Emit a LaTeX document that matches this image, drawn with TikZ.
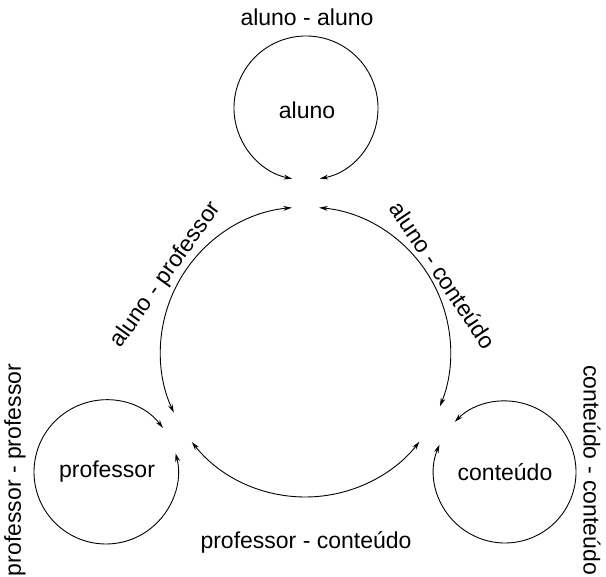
\documentclass[tikz,border=0pt]{standalone}
\usepackage{fontspec}
\setmainfont{Liberation Sans}
\usetikzlibrary{arrows.meta,calc}
\begin{document}
\begin{tikzpicture}[x=1pt,y=1pt,
  lbl/.style={font=\fontsize{23}{27}\selectfont, inner sep=0pt},
  arr/.style={line width=0.9pt, {Stealth[length=8.5pt,width=4.8pt]}-{Stealth[length=8.5pt,width=4.8pt]}}]
\useasboundingbox (0,0) rectangle (606,577);
% centres
\coordinate (C) at (305.5,225);
\coordinate (A) at (306,469);
\coordinate (P) at (106,105);
\coordinate (Q) at (505,105);
% arc end points
\coordinate (c1) at ($(C)+(95.4:145)$);
\coordinate (c2) at ($(C)+(84.6:145)$);
\coordinate (c3) at ($(C)+(218.4:145)$);
\coordinate (c4) at ($(C)+(321.8:145)$);
\coordinate (a1) at ($(A)+(281:72)$);
\coordinate (p1) at ($(P)+(37.7:72)$);
\coordinate (q1) at ($(Q)+(157.4:71)$);
% big circle arcs
\draw[arr] (c1) arc[start angle=95.4, end angle=204.7, radius=145];
\draw[arr] (c2) arc[start angle=84.6, end angle=-22, radius=145];
\draw[arr] (c3) arc[start angle=218.4, end angle=321.8, radius=145];
% small loops
\draw[arr] (a1) arc[start angle=-79, end angle=259, radius=72];
\draw[arr] (p1) arc[start angle=37.7, end angle=375, radius=72];
\draw[arr] (q1) arc[start angle=157.4, end angle=495, radius=71];
% labels
\node[lbl] (lAA) at (307,560) {aluno - aluno};
\node[lbl] (nA) at (307,467) {aluno};
\node[lbl] (nP) at (107,105) {professor};
\node[lbl] (nQ) at (505,105) {conteúdo};
\node[lbl] (lPQ) at (306,35) {professor - conteúdo};
\node[lbl, rotate=54.5] (lAP) at (166,302) {aluno - professor};
\node[lbl, rotate=-56] (lAQ) at (443,302) {aluno - conteúdo};
\node[lbl, rotate=90] (lPP) at (15,107) {professor - professor};
\node[lbl, rotate=-90] (lQQ) at (592,107) {conteúdo - conteúdo};
\end{tikzpicture}
\end{document}
